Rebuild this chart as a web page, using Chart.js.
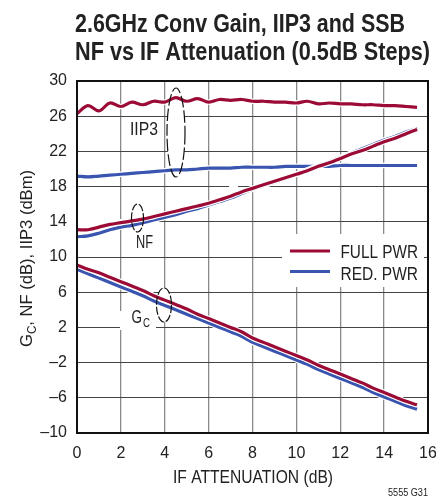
<!DOCTYPE html>
<html>
<head>
<meta charset="utf-8">
<script src="https://cdn.jsdelivr.net/npm/chart.js@4.4.1/dist/chart.umd.min.js"></script>
<style>
  html, body { margin: 0; padding: 0; background: #fff; }
  #wrap { width: 436px; height: 499px; position: relative; }
</style>
</head>
<body>
<div id="wrap"><canvas id="chart" width="436" height="499"></canvas></div>
<script>
const FONT = '"Liberation Sans", Arial, sans-serif';

// IF attenuation in 0.5dB steps
const atten = [0, 0.5, 1, 1.5, 2, 2.5, 3, 3.5, 4, 4.5, 5, 5.5, 6, 6.5, 7, 7.5,
               8, 8.5, 9, 9.5, 10, 10.5, 11, 11.5, 12, 12.5, 13, 13.5, 14, 14.5, 15, 15.5];

const iip3Full = [26.3, 27.2, 26.6, 27.5, 27.1, 27.6, 27.3, 27.7, 27.6, 28.1, 27.7, 28.0, 27.6, 27.9, 27.8, 27.9,
                  27.7, 27.7, 27.6, 27.6, 27.5, 27.7, 27.4, 27.5, 27.4, 27.4, 27.3, 27.3, 27.2, 27.2, 27.1, 27.0];
const iip3Red  = [19.2, 19.1, 19.2, 19.3, 19.4, 19.5, 19.6, 19.7, 19.8, 19.9, 19.9, 20.0, 20.1, 20.1, 20.1, 20.2,
                  20.2, 20.2, 20.2, 20.3, 20.3, 20.3, 20.3, 20.3, 20.4, 20.4, 20.4, 20.4, 20.4, 20.4, 20.4, 20.4];
const nfFull   = [13.1, 13.1, 13.4, 13.7, 13.9, 14.1, 14.3, 14.6, 14.9, 15.2, 15.5, 15.8, 16.1, 16.5, 16.9, 17.4,
                  17.8, 18.2, 18.6, 19.0, 19.4, 19.8, 20.3, 20.7, 21.2, 21.7, 22.1, 22.6, 23.1, 23.5, 24.0, 24.5];
const nfRed    = [12.3, 12.4, 12.7, 13.1, 13.4, 13.6, 13.9, 14.2, 14.5, 14.8, 15.2, 15.5, 15.9, 16.3, 16.7, 17.2,
                  17.7, 18.1, 18.5, 18.9, 19.4, 19.9, 20.4, 20.8, 21.3, 21.8, 22.3, 22.8, 23.3, 23.7, 24.2, 24.6];
const gcFull   = [9.1, 8.6, 8.2, 7.7, 7.2, 6.7, 6.2, 5.6, 5.1, 4.6, 4.1, 3.5, 3.0, 2.5, 2.0, 1.5,
                  0.8, 0.3, -0.2, -0.7, -1.2, -1.7, -2.3, -2.8, -3.3, -3.8, -4.3, -4.9, -5.4, -5.9, -6.4, -6.8];
const gcRed    = [8.6, 8.1, 7.6, 7.1, 6.6, 6.1, 5.6, 5.0, 4.5, 4.0, 3.5, 3.0, 2.5, 2.0, 1.5, 1.0,
                  0.3, -0.2, -0.7, -1.2, -1.7, -2.2, -2.8, -3.3, -3.8, -4.3, -4.8, -5.4, -5.9, -6.4, -6.9, -7.3];

const xTicks = [0, 2, 4, 6, 8, 10, 12, 14, 16];
const yTicks = [-10, -6, -2, 2, 6, 10, 14, 18, 22, 26, 30];

const RED = "#9b0b35";
const BLUE = "#3a55b0";

function series(vals, color) {
    return {
        data: atten.map((x, i) => ({ x: x, y: vals[i] })),
        borderColor: color,
        borderWidth: 3.2,
        pointRadius: 0,
        tension: 0.35,
        fill: false
    };
}

// squeeze text horizontally so it looks like the condensed face in the print
function fillFit(ctx, text, x, y, width) {
    const sx = width / ctx.measureText(text).width;
    ctx.save();
    ctx.translate(x, y);
    ctx.scale(sx, 1);
    ctx.textAlign = "left";
    ctx.fillText(text, 0, 0);
    ctx.restore();
}

// white halo under each line, like the print version
const haloPlugin = {
    id: "halo",
    beforeDatasetDraw(chart, args) {
        const ctx = chart.ctx;
        ctx.save();
        ctx.beginPath();
        args.meta.dataset.path(ctx);
        ctx.strokeStyle = "#fff";
        ctx.lineWidth = 5.5;
        ctx.stroke();
        ctx.restore();
    }
};

const notesPlugin = {
    id: "notes",
    beforeDatasetsDraw(chart) {
        const ctx = chart.ctx;
        ctx.save();
        ctx.fillStyle = "#fff";
        // grid gaps around labels / legend
        ctx.fillRect(78, 219, 81, 6);
        ctx.fillRect(229, 183, 9, 6);
        ctx.fillRect(120, 311, 36, 19);
        ctx.fillRect(282, 234, 142, 53);
        // ellipse interiors
        [[176, 132.5, 9, 44.5], [137.5, 218, 6, 14], [164, 305, 7.5, 17]].forEach(e => {
            ctx.beginPath();
            ctx.ellipse(e[0], e[1], e[2], e[3], 0, 0, Math.PI * 2);
            ctx.fill();
        });
        ctx.restore();
    },
    afterDatasetsDraw(chart) {
        const ctx = chart.ctx;
        const a = chart.chartArea;
        ctx.save();
        // frame
        ctx.strokeStyle = "#111";
        ctx.lineWidth = 2;
        ctx.strokeRect(a.left, a.top, a.right - a.left, a.bottom - a.top);

        // ellipses
        ctx.lineWidth = 1.2;
        ctx.setLineDash([12, 3]);
        ctx.beginPath();
        ctx.ellipse(176, 132.5, 9, 44.5, 0, 0, Math.PI * 2);
        ctx.stroke();
        ctx.setLineDash([8, 2]);
        ctx.beginPath();
        ctx.ellipse(137.5, 218, 6, 14, 0, 0, Math.PI * 2);
        ctx.stroke();
        ctx.beginPath();
        ctx.ellipse(164, 305, 7.5, 17, 0, 0, Math.PI * 2);
        ctx.stroke();
        ctx.setLineDash([]);

        // labels
        ctx.fillStyle = "#222";
        ctx.textBaseline = "alphabetic";
        ctx.font = "18px " + FONT;
        fillFit(ctx, "IIP3", 130, 135, 28);
        fillFit(ctx, "NF", 136, 248, 17);
        fillFit(ctx, "G", 131.5, 323, 10.5);
        ctx.font = "13px " + FONT;
        fillFit(ctx, "C", 143, 327, 7);

        // legend
        ctx.lineWidth = 3.2;
        ctx.strokeStyle = RED;
        ctx.beginPath(); ctx.moveTo(290, 251); ctx.lineTo(330, 251); ctx.stroke();
        ctx.strokeStyle = BLUE;
        ctx.beginPath(); ctx.moveTo(290, 271.5); ctx.lineTo(330, 271.5); ctx.stroke();
        ctx.font = "18px " + FONT;
        fillFit(ctx, "FULL PWR", 340.5, 258, 77.5);
        fillFit(ctx, "RED. PWR", 340.5, 280, 77.5);
        ctx.restore();
    },
    afterDraw(chart) {
        const ctx = chart.ctx;
        ctx.save();
        ctx.fillStyle = "#222";
        ctx.textBaseline = "alphabetic";
        ctx.font = "bold 25px " + FONT;
        fillFit(ctx, "2.6GHz Conv Gain, IIP3 and SSB", 75, 32, 330);
        fillFit(ctx, "NF vs IF Attenuation (0.5dB Steps)", 75, 60, 355);

        // x axis title
        ctx.font = "18px " + FONT;
        fillFit(ctx, "IF ATTENUATION (dB)", 173, 483, 160);

        ctx.font = "10px " + FONT;
        fillFit(ctx, "5555 G31", 388, 496, 40);

        // y axis title with subscript
        ctx.translate(32, 347);
        ctx.rotate(-Math.PI / 2);
        ctx.font = "17px " + FONT;
        const wG = ctx.measureText("G").width;
        const wRest = ctx.measureText(", NF (dB), IIP3 (dBm)").width;
        ctx.font = "12px " + FONT;
        const wC = ctx.measureText("C").width;
        const sx = 177 / (wG + wC + wRest);
        ctx.scale(sx, 1);
        ctx.font = "17px " + FONT;
        ctx.fillText("G", 0, 0);
        ctx.font = "12px " + FONT;
        ctx.fillText("C", wG, 4);
        ctx.font = "17px " + FONT;
        ctx.fillText(", NF (dB), IIP3 (dBm)", wG + wC, 0);
        ctx.restore();
    }
};

const ctx = document.getElementById("chart").getContext("2d");
const chart = new Chart(ctx, {
    type: "line",
    data: {
        datasets: [
            series(gcFull, RED),
            series(nfFull, RED),
            series(iip3Full, RED),
            series(gcRed, BLUE),
            series(nfRed, BLUE),
            series(iip3Red, BLUE)
        ]
    },
    options: {
        responsive: false,
        animation: false,
        layout: { padding: { top: 81, right: 8, left: 0, bottom: 0 } },
        plugins: {
            legend: { display: false },
            tooltip: { enabled: false }
        },
        scales: {
            x: {
                type: "linear",
                min: 0,
                max: 16,
                afterBuildTicks: s => { s.ticks = xTicks.map(v => ({ value: v })); },
                afterFit: s => { s.height = 66; s.paddingLeft = 0; s.paddingRight = 0; },
                grid: { color: "#8a8a8a", lineWidth: 1.3, drawTicks: false },
                border: { display: false },
                ticks: {
                    color: "#222",
                    padding: 11,
                    font: { family: FONT, size: 16 }
                }
            },
            y: {
                min: -10,
                max: 30,
                afterBuildTicks: s => { s.ticks = yTicks.map(v => ({ value: v })); },
                afterFit: s => { s.width = 77; s.paddingTop = 0; s.paddingBottom = 0; },
                grid: { color: "#444", lineWidth: 1, drawTicks: false },
                border: { display: false },
                ticks: {
                    color: "#222",
                    padding: 10,
                    font: { family: FONT, size: 16 },
                    callback: v => String(v).replace("-", "\u2013")
                }
            }
        }
    },
    plugins: [haloPlugin, notesPlugin]
});
</script>
</body>
</html>
